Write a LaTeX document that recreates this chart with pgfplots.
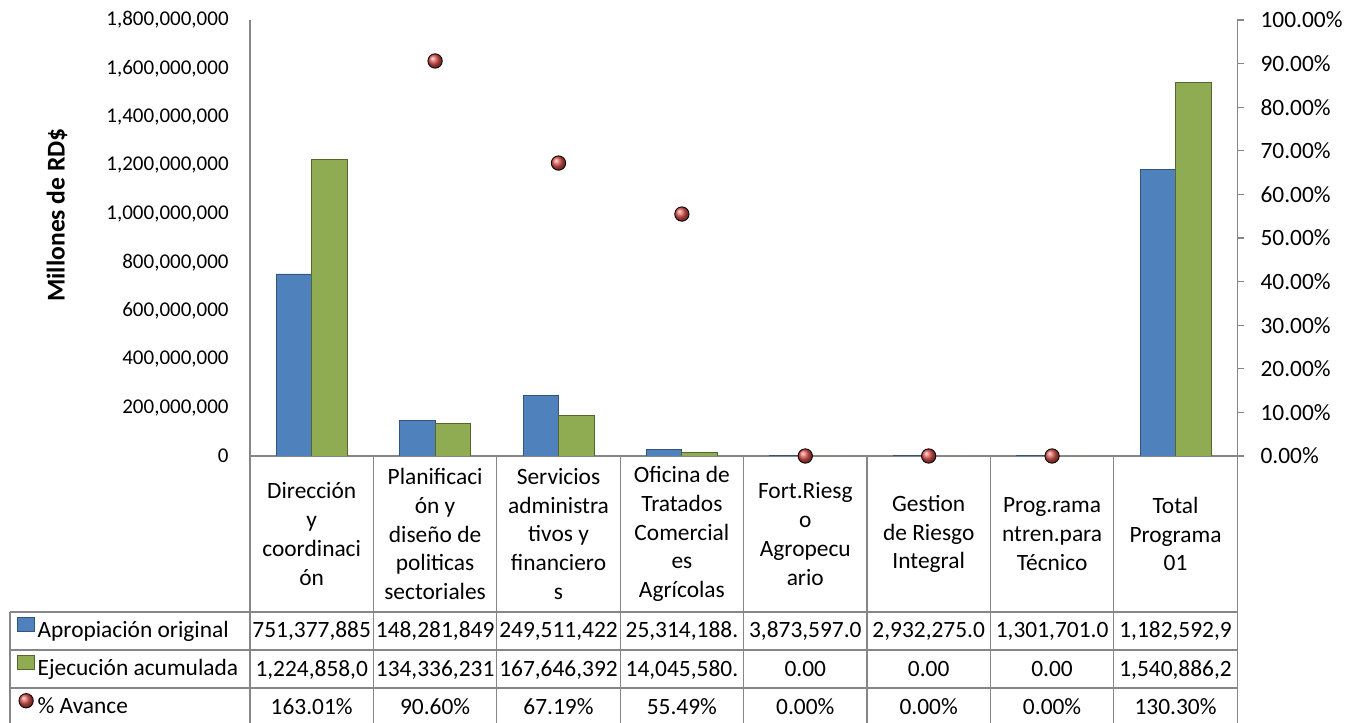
\documentclass[border=0pt]{standalone}
\usepackage{pgfplots}
\pgfplotsset{compat=1.18}
\usepackage{fontspec}
\setmainfont{Carlito}
\definecolor{xblue}{HTML}{4F81BD}
\definecolor{xgreen}{HTML}{9BBB59}
\definecolor{xred}{HTML}{DE544E}
\definecolor{axgray}{HTML}{868686}
\newcommand{\tfont}{\fontsize{11.7}{14.4}\selectfont}
\begin{document}
\begin{tikzpicture}
\path[use as bounding box] (-125pt,-133.5pt) rectangle (561pt,228pt);
% ---- data table below the plot (grid + text) ----
\begin{scope}[shift={(-125pt,228pt)},x=0.5pt,y=-0.5pt]
  \draw[axgray, line width=0.6pt] (10,612) -- (1237.2,612) (10,650) -- (1237.2,650) (10,688) -- (1237.2,688);
  \draw[axgray, line width=0.6pt] (10,612) -- (10,723);
  \foreach \k in {0,...,8} \draw[axgray, line width=0.6pt] ({250+123.4*\k},456) -- ({250+123.4*\k},723);
  \foreach \i/\t in {0/{Dirección\\y\\coordinaci\\ón},
                     1/{Planificaci\\ón y\\diseño de\\politicas\\sectoriales},
                     2/{Servicios\\administra\\tivos y\\financiero\\s},
                     3/{Oficina de\\Tratados\\Comercial\\es\\Agrícolas},
                     4/{Fort.Riesg\\o\\Agropecu\\ario},
                     5/{Gestion\\de Riesgo\\Integral},
                     6/{Prog.rama\\ntren.para\\Técnico},
                     7/{Total\\Programa\\01}}
    \node[align=center, font=\tfont, inner sep=0pt] at ({311.7+123.4*\i},534) {\t};
  \foreach \i/\t in {0/{751,377,885},1/{148,281,849},2/{249,511,422},3/{25,314,188.},
                     4/{3,873,597.0},5/{2,932,275.0},6/{1,301,701.0},7/{1,182,592,9}}
    \node[anchor=base, font=\tfont, inner sep=0pt] at ({311.7+123.4*\i},637.5) {\t};
  \foreach \i/\t in {0/{1,224,858,0},1/{134,336,231},2/{167,646,392},3/{14,045,580.},
                     4/{0.00},5/{0.00},6/{0.00},7/{1,540,886,2}}
    \node[anchor=base, font=\tfont, inner sep=0pt] at ({311.7+123.4*\i},676) {\t};
  \foreach \i/\t in {0/{163.01\%},1/{90.60\%},2/{67.19\%},3/{55.49\%},
                     4/{0.00\%},5/{0.00\%},6/{0.00\%},7/{130.30\%}}
    \node[anchor=base, font=\tfont, inner sep=0pt] at ({311.7+123.4*\i},714) {\t};
\end{scope}
% ---- bars ----
\begin{axis}[
  at={(0pt,0pt)}, anchor=south west,
  scale only axis, width=493.6pt, height=218pt,
  xmin=-0.5, xmax=7.5, ymin=0, ymax=1800000000,
  axis x line*=bottom, axis y line*=left,
  axis line style={draw=axgray, line width=0.6pt},
  xtick=\empty,
  ytick={0,200000000,400000000,600000000,800000000,1000000000,1200000000,1400000000,1600000000,1800000000},
  scaled y ticks=false,
  major tick length=0pt,
  yticklabel={\pgfmathprintnumber[assume math mode=true,fixed,precision=0,1000 sep={,}]{\tick}},
  yticklabel style={font=\fontsize{10.5}{12}\selectfont, inner sep=0pt, xshift=-10.5pt},
  ylabel={Millones de RD\$},
  ylabel style={at={(axis description cs:-0.1955,0.553)}, anchor=center, font=\fontsize{12.8}{15}\selectfont\bfseries},
  ybar=0pt, bar width=0.2875,
]
\addplot[fill=xblue, draw=xblue!65!black, line width=0.4pt]
  coordinates {(0,751377885) (1,148281849) (2,249511422) (3,25314188) (4,3873597) (5,2932275) (6,1301701) (7,1182592900)};
\addplot[fill=xgreen!92!black, draw=xgreen!55!black, line width=0.4pt]
  coordinates {(0,1224858000) (1,134336231) (2,167646392) (3,14045580) (4,0) (5,0) (6,0) (7,1540886200)};
\end{axis}
% ---- % Avance on secondary axis ----
\begin{axis}[
  at={(0pt,0pt)}, anchor=south west,
  scale only axis, width=493.6pt, height=218pt,
  xmin=-0.5, xmax=7.5, ymin=0, ymax=100,
  axis x line=none, axis y line*=right,
  axis line style={draw=axgray, line width=0.6pt},
  ytick={0,10,20,30,40,50,60,70,80,90,100},
  tick align=outside, major tick length=3.5pt,
  ytick style={draw=axgray, line width=0.6pt},
  yticklabel={\pgfmathprintnumber[assume math mode=true,fixed,fixed zerofill,precision=2]{\tick}\%},
  yticklabel style={font=\tfont, anchor=west, inner sep=0pt, xshift=8pt},
  clip=false,
  restrict y to domain=0:100,
  legend style={at={(axis description cs:-0.236,-0.3613)}, anchor=north west, draw=none, fill=none,
    inner sep=0pt, outer sep=0pt, column sep=1.5pt, row sep=0pt,
    nodes={inner sep=0pt, text height=12pt, text depth=7pt, font=\tfont}},
  legend cell align=left,
]
\addlegendimage{legend image code/.code={\fill[xblue, draw=xblue!65!black, line width=0.3pt] (0pt,0.4pt) rectangle (8.5pt,7.4pt);}}
\addlegendimage{legend image code/.code={\fill[xgreen!92!black, draw=xgreen!55!black, line width=0.3pt] (0pt,0.4pt) rectangle (8.5pt,7.4pt);}}
\addplot[only marks, mark=ball, mark size=3.6pt, ball color=xred, mark options={ball color=xred},
  legend image code/.code={\shade[ball color=xred] (4.4pt,3.9pt) circle (3.6pt);}]
  coordinates {(0,163.01) (1,90.60) (2,67.19) (3,55.49) (4,0) (5,0) (6,0) (7,130.30)};
\legend{Apropiación original, Ejecución acumulada, \% Avance}
\end{axis}
\end{tikzpicture}
\end{document}
